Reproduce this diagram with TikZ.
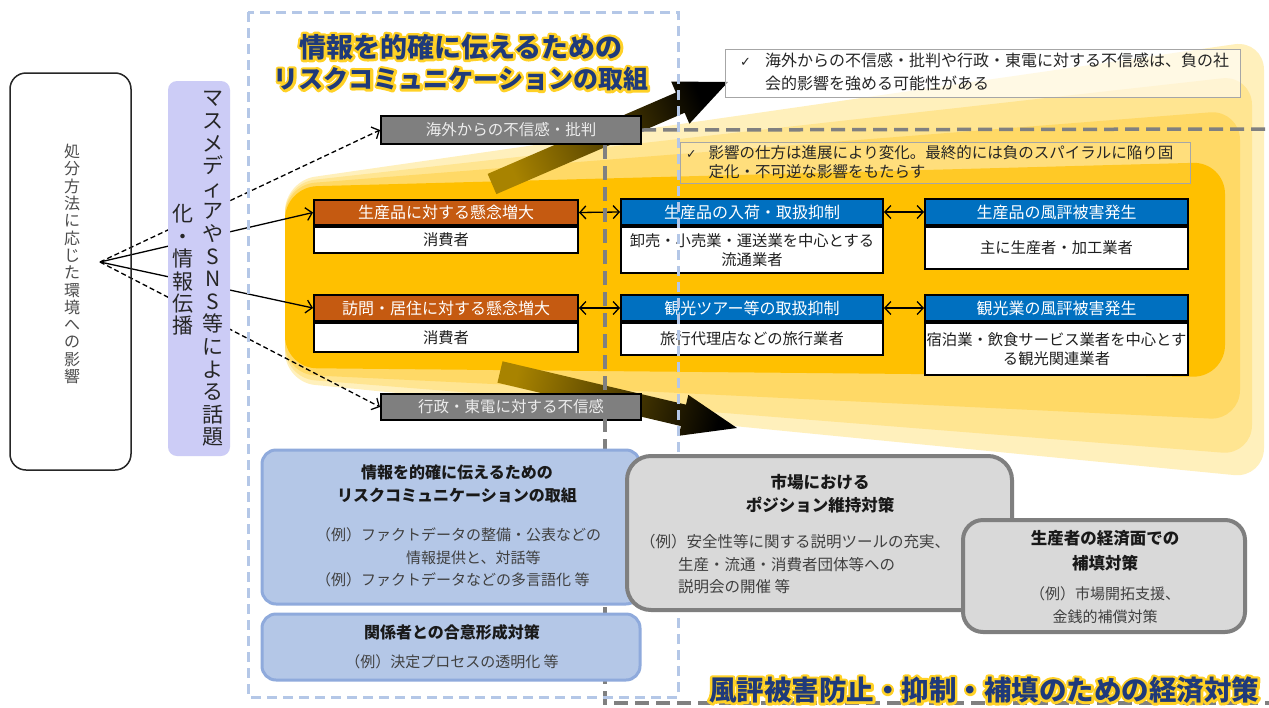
\documentclass[tikz,border=0pt]{standalone}
\usepackage{fontspec}
\setmainfont{Noto Sans CJK JP}
\newfontfamily\dvsans{DejaVu Sans}
\usetikzlibrary{arrows.meta,calc}

\definecolor{navyT}{HTML}{1F3A7A}
\definecolor{orangeH}{HTML}{C55A11}
\definecolor{blueH}{HTML}{0070C0}
\definecolor{grayB}{HTML}{7F7F7F}
\definecolor{lavF}{HTML}{CCCCF6}
\definecolor{ylA}{HTML}{FFF0BC}
\definecolor{ylB}{HTML}{FFE591}
\definecolor{ylC}{HTML}{FFD966}
\definecolor{ylD}{HTML}{FFC000}
\definecolor{bbF}{HTML}{B4C7E7}
\definecolor{bbD}{HTML}{8FAADC}
\definecolor{gbF}{HTML}{D9D9D9}
\definecolor{gbD}{HTML}{7F7F7F}
\definecolor{exT}{HTML}{404040}
\definecolor{dashB}{HTML}{B4C7E7}
\definecolor{dashG}{HTML}{808080}
\definecolor{tailC}{HTML}{A88300}

\newcommand\glowtxt[1]{\rlap{\special{pdf:literal direct 1 Tr 5 w 1 j 1 0.82 0.15 RG}#1\special{pdf:literal direct 0 Tr}}#1}

\tikzset{
  hdr/.style={draw=black, line width=2pt, text=white, inner sep=0pt, anchor=north west, font=\fontsize{16}{18}\selectfont},
  bodyb/.style={draw=black, line width=2pt, fill=white, inner sep=0pt, anchor=north, align=center, text=black!88, font=\fontsize{15.3}{19.5}\selectfont},
  grayhdr/.style={draw=black, line width=2pt, fill=grayB, text=white!93!black, inner sep=0pt, anchor=north west, minimum width=260pt, font=\fontsize{15.5}{18}\selectfont},
  conn/.style={line width=1.3pt, -{Straight Barb[length=6pt,width=13pt]}},
  dconn/.style={conn, dash pattern=on 5pt off 3pt},
  dbl/.style={line width=1.3pt, {Straight Barb[length=6pt,width=13pt]}-{Straight Barb[length=6pt,width=13pt]}},
  note/.style={draw=black!35, line width=1pt, inner sep=0pt, anchor=north west},
  bluedash/.style={draw=dashB, line width=3pt, dash pattern=on 10pt off 6pt},
  graydash/.style={draw=dashG, line width=3.5pt, dash pattern=on 14pt off 7pt},
  bluebox/.style={draw=bbD, fill=bbF, line width=3pt, rounded corners=14pt},
  graybox/.style={draw=gbD, fill=gbF, line width=4pt, rounded corners=24pt},
  ttl/.style={text=navyT, inner sep=0pt},
  bxt/.style={font=\bfseries\fontsize{16}{23}\selectfont, align=center, inner sep=0pt, text=black!90},
  ext/.style={font=\fontsize{15}{22.5}\selectfont, text=exT, inner sep=0pt},
  vtext/.style={align=center, inner sep=0pt},
}

\begin{document}
\begin{tikzpicture}[x=1pt,y=-1pt]
\fill[white] (0,0) rectangle (1269,707);
\useasboundingbox (0,0) rectangle (1269,707);

% yellow fan layers
\fill[ylA, rounded corners=30pt] (285,181) -- (1264,40) -- (1264,478) -- (285,382) -- cycle;
\fill[ylB, rounded corners=30pt] (285,183) -- (1252,75) -- (1252,455) -- (285,378) -- cycle;
\fill[ylC, rounded corners=30pt] (285,185) -- (1240,110) -- (1240,420) -- (285,374) -- cycle;
\fill[ylD, rounded corners=32pt] (285,187) -- (1225,162) -- (1225,377) -- (285,368) -- cycle;

% fat arrows
\coordinate (a1t) at (492,184); \coordinate (a1h) at (728,82);
\coordinate (a1b) at ($(a1h)!52pt!(a1t)$);
\shade[left color=tailC, middle color=black!70!tailC, right color=black, shading angle=113]
  ($(a1t)!11pt!90:(a1h)$) -- ($(a1b)!11pt!90:(a1h)$) -- ($(a1b)!23pt!90:(a1h)$) -- (a1h)
  -- ($(a1b)!23pt!-90:(a1h)$) -- ($(a1b)!11pt!-90:(a1h)$) -- ($(a1t)!11pt!-90:(a1h)$) -- cycle;
\coordinate (a2t) at (500,372); \coordinate (a2h) at (737,428);
\coordinate (a2b) at ($(a2h)!55pt!(a2t)$);
\shade[left color=tailC, middle color=black!70!tailC, right color=black, shading angle=76.7]
  ($(a2t)!11pt!90:(a2h)$) -- ($(a2b)!11pt!90:(a2h)$) -- ($(a2b)!21pt!90:(a2h)$) -- (a2h)
  -- ($(a2b)!21pt!-90:(a2h)$) -- ($(a2b)!11pt!-90:(a2h)$) -- ($(a2t)!11pt!-90:(a2h)$) -- cycle;

% notes
\node[note, fill=white, fill opacity=0.6, minimum width=515pt, minimum height=48pt] (note1) at (725,49) {};
\node[anchor=west, inner sep=0pt, font=\fontsize{16}{23}\selectfont, text=black!85] (note1t) at (740,73.5)
  {\begin{tabular}{@{}l@{\hspace{14pt}}l@{}}{\dvsans\fontsize{13}{23}\selectfont ✓} & 海外からの不信感・批判や行政・東電に対する不信感は、負の社\\ & 会的影響を強める可能性がある\end{tabular}};
\node[note, fill=white, fill opacity=0.15, minimum width=510pt, minimum height=41pt] (note2) at (680,142) {};
\node[anchor=west, inner sep=0pt, font=\fontsize{15.5}{19}\selectfont, text=black!85] (note2t) at (686,164)
  {\begin{tabular}{@{}l@{\hspace{12pt}}l@{}}{\dvsans\fontsize{12.5}{19}\selectfont ✓} & 影響の仕方は進展により変化。最終的には負のスパイラルに陥り固\\ & 定化・不可逆な影響をもたらす\end{tabular}};

% middle boxes
\node[grayhdr, minimum height=28pt] (kaigai) at (380,115) {海外からの不信感・批判};
\node[grayhdr, minimum height=26pt] (gyosei) at (380,393) {行政・東電に対する不信感};

\node[hdr, fill=orangeH, minimum width=264pt, minimum height=25pt] (c1h) at (313,199) {生産品に対する懸念増大};
\node[bodyb, minimum width=264pt, minimum height=26pt] (c1b) at (c1h.south) {消費者};
\node[hdr, fill=orangeH, minimum width=264pt, minimum height=26pt] (c2h) at (313,294) {訪問・居住に対する懸念増大};
\node[bodyb, minimum width=264pt, minimum height=29pt] (c2b) at (c2h.south) {消費者};

\node[hdr, fill=blueH, minimum width=262pt, minimum height=26pt] (m1h) at (620,198) {生産品の入荷・取扱抑制};
\node[bodyb, minimum width=262pt, minimum height=46pt] (m1b) at (m1h.south) {卸売・小売業・運送業を中心とする\\流通業者};
\node[hdr, fill=blueH, minimum width=262pt, minimum height=26pt] (m2h) at (620,294) {観光ツアー等の取扱抑制};
\node[bodyb, minimum width=262pt, minimum height=32pt] (m2b) at (m2h.south) {旅行代理店などの旅行業者};

\node[hdr, fill=blueH, minimum width=263pt, minimum height=26pt] (r1h) at (924,198) {生産品の風評被害発生};
\node[bodyb, minimum width=263pt, minimum height=42pt] (r1b) at (r1h.south) {主に生産者・加工業者};
\node[hdr, fill=blueH, minimum width=263pt, minimum height=26pt] (r2h) at (924,294) {観光業の風評被害発生};
\node[bodyb, minimum width=263pt, minimum height=52pt] (r2b) at (r2h.south) {宿泊業・飲食サービス業者を中心とす\\る観光関連業者};

\draw[dbl] (c1h.east) -- (m1h.west);
\draw[dbl] (m1h.east) -- (r1h.west);
\draw[dbl] (c2h.east) -- (m2h.west);
\draw[dbl] (m2h.east) -- (r2h.west);

% connectors from the left
\coordinate (src) at (100,262);
\draw[dconn] (src) -- (kaigai.west);
\draw[conn] (src) -- (c1h.west);
\draw[conn] (src) -- (c2h.west);
\draw[dconn] (src) -- (gyosei.west);

% left box
\draw[line width=1.5pt, draw=black!85, rounded corners=16pt] (10,73) rectangle (131,470);
\node[vtext, font=\fontsize{16}{17.3}\selectfont, text=black!70] (leftT) at (72,264)
  {処\\分\\方\\法\\に\\応\\じ\\た\\環\\境\\へ\\の\\影\\響};

% lavender box
\fill[lavF, rounded corners=9pt] (168,81) rectangle (230,456);
\node[vtext, font=\fontsize{21}{22.6}\selectfont, text=black!85] (medR) at (213,269)
  {マ\\ス\\メ\\デ\\ィ\\ア\\や\\S\\N\\S\\等\\に\\よ\\る\\話\\題};
\node[vtext, font=\fontsize{21}{22.4}\selectfont, text=black!85] (medL) at (183,270)
  {化\\・\\情\\報\\伝\\播};

% dashed frames
\coordinate (gdE) at (1269,129);
\coordinate (gdB) at (605,703);
\coordinate (gdBR) at (1269,703);
\draw[graydash] (kaigai.east) -- (gdE);
\draw[graydash] (kaigai.south -| gdB) -- (gdB) -- (gdBR);
\draw[bluedash] (248,12) rectangle (678,697);

% bottom boxes
\draw[bluebox] (262,450) rectangle (640,604);
\node[bxt] (bb1t) at (457,483.5) {情報を的確に伝えるための\\リスクコミュニケーションの取組};
\node[ext, anchor=west, align=left] (bb1e) at (316,557.5)
  {（例）ファクトデータの整備・公表などの\\\hspace*{90pt}情報提供と、対話等\\（例）ファクトデータなどの多言語化\ 等};
\draw[bluebox] (262,614) rectangle (640,680);
\node[bxt] (bb2t) at (452,632) {関係者との合意形成対策};
\node[ext] (bb2e) at (452,662) {（例）決定プロセスの透明化\ 等};

\draw[graybox] (627,456) rectangle (1012,610);
\node[bxt, font=\bfseries\fontsize{16.5}{23}\selectfont] (gb1t) at (820,493.5) {市場における\\ポジション維持対策};
\node[ext, anchor=west, align=left, font=\fontsize{15.5}{22.5}\selectfont] (gb1e) at (640,564.5)
  {（例）安全性等に関する説明ツールの充実、\\\hspace*{38pt}生産・流通・消費者団体等への\\\hspace*{38pt}説明会の開催\ 等};
\draw[graybox, rounded corners=20pt] (963,520) rectangle (1245,632);
\node[bxt, font=\bfseries\fontsize{16.5}{25}\selectfont] (gb2t) at (1105,550.5) {生産者の経済面での\\補填対策};
\node[ext, align=center, font=\fontsize{15}{23}\selectfont] (gb2e) at (1105,605.5) {（例）市場開拓支援、\\金銭的補償対策};

% titles
\node[ttl, font=\bfseries\fontsize{27}{30}\selectfont] (title1) at (461,47) {\glowtxt{情報を的確に伝えるための}};
\node[ttl, font=\bfseries\fontsize{25}{30}\selectfont] (title2) at (461,79) {\glowtxt{リスクコミュニケーションの取組}};
\node[ttl, font=\bfseries\fontsize{27.5}{30}\selectfont] (title3) at (984,690) {\glowtxt{風評被害防止・抑制・補填のための経済対策}};
\end{tikzpicture}
\end{document}
